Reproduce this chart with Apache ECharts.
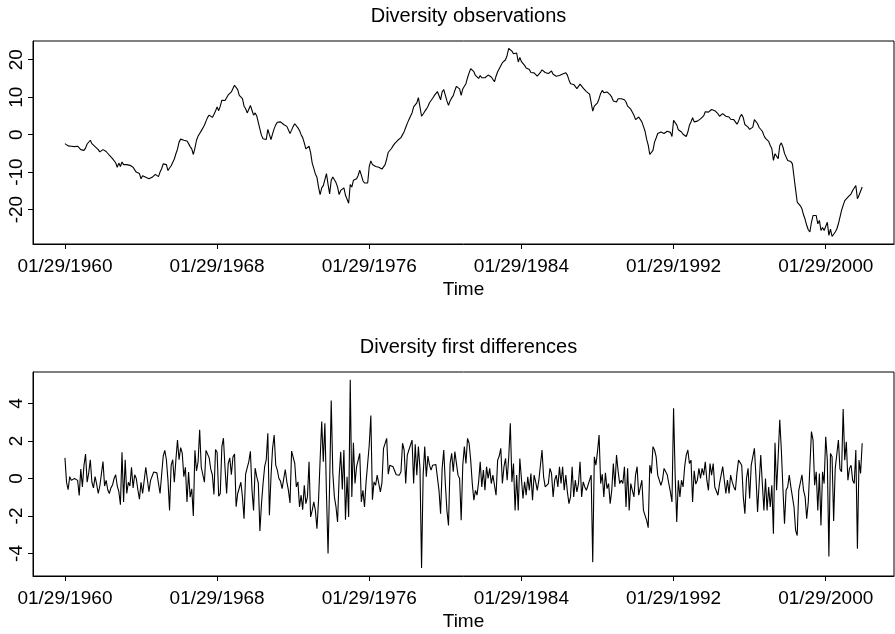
<!DOCTYPE html>
<html>
<head>
<meta charset="utf-8">
<script src="https://cdn.jsdelivr.net/npm/echarts@6/dist/echarts.min.js"></script>
<style>
html,body{margin:0;padding:0;background:#fff;}
#chart{width:895px;height:634px;}
</style>
</head>
<body>
<div id="chart"></div>
<script>
// Monthly series starting 01/29/1960
const startYear = 1960;
const titles = ['Diversity observations', 'Diversity first differences'];
const xAxisName = 'Time';
const tickYears = [1960, 1968, 1976, 1984, 1992, 2000];
const tickLabels = ['01/29/1960', '01/29/1968', '01/29/1976', '01/29/1984', '01/29/1992', '01/29/2000'];
const obsTicks = [-20, -10, 0, 10, 20];
const diffTicks = [-4, -2, 0, 2, 4];

const observations = [
-2.4,-2.8,-3.0,-3.1,-3.1,-3.0,-3.2,-3.1,-3.1,-3.6,
-4.0,-3.5,-4.2,-3.6,-2.5,-2.0,-1.5,-2.4,-2.9,-3.2,
-3.5,-4.0,-4.6,-4.3,-4.0,-4.2,-4.5,-5.0,-5.5,-6.0,
-6.4,-6.9,-7.5,-8.7,-7.6,-8.5,-7.3,-8.0,-8.5,-8.0,
-8.2,-8.2,-8.5,-8.7,-9.4,-10.0,-10.2,-10.4,-11.8,-11.0,
-10.7,-11.4,-11.6,-11.8,-11.6,-11.4,-11.0,-10.6,-10.4,-11.2,
-10.0,-9.1,-7.8,-7.9,-8.0,-9.6,-8.9,-8.3,-7.8,-6.5,
-5.1,-3.9,-2.0,-1.2,-0.8,-1.5,-1.5,-1.7,-2.4,-3.2,
-3.8,-5.3,-3.6,-1.5,-0.4,0.3,1.0,1.4,2.5,3.6,
4.6,5.2,4.9,4.6,5.4,6.3,7.4,6.4,7.6,9.2,
9.0,9.1,9.6,10.6,11.1,11.4,12.3,13.2,12.8,12.0,
10.5,10.2,9.6,7.6,6.9,5.8,6.2,7.8,6.5,5.2,
5.8,5.0,4.5,1.5,-0.2,-1.1,-1.2,-1.3,1.4,0.0,
-1.3,0.2,1.6,2.6,3.3,3.6,3.4,3.1,2.7,2.5,
2.2,1.9,0.3,1.2,2.2,2.9,2.6,1.8,1.1,0.0,
-0.8,-2.2,-3.8,-3.4,-3.1,-4.8,-7.6,-9.0,-10.5,-11.4,
-14.0,-16.0,-14.2,-13.6,-12.0,-10.4,-13.3,-15.8,-12.2,-11.3,
-11.4,-12.8,-14.0,-16.0,-14.9,-15.4,-14.2,-16.2,-16.5,-18.3,
-13.3,-14.0,-12.2,-12.0,-11.8,-10.9,-9.5,-10.8,-12.3,-12.9,
-12.9,-12.9,-8.5,-7.0,-8.0,-8.3,-8.5,-8.6,-8.7,-8.8,
-9.2,-9.7,-8.0,-6.5,-4.7,-4.2,-3.7,-3.0,-2.4,-2.0,
-1.5,-1.2,-0.8,-0.4,0.8,1.9,3.0,4.0,4.9,5.8,
7.4,7.9,8.5,9.9,9.6,4.9,5.5,6.2,6.8,7.5,
8.5,9.1,9.7,10.4,10.9,11.5,11.8,9.3,11.4,12.0,
12.3,9.0,7.8,9.0,9.8,10.4,11.8,12.9,13.0,12.2,
10.5,12.2,12.9,13.6,15.2,16.5,17.6,17.8,16.8,15.8,
15.3,15.0,15.8,15.2,15.6,15.2,15.6,15.9,16.1,15.4,
15.0,14.1,15.6,16.8,17.6,18.1,19.2,19.7,20.0,21.2,
23.0,22.9,22.3,21.6,21.3,21.8,19.4,20.6,19.5,19.1,
18.5,17.8,17.4,17.4,16.6,16.3,16.5,16.0,15.6,15.2,
16.6,17.3,17.4,16.6,16.4,16.3,16.7,17.0,16.1,15.8,
15.6,15.7,15.8,15.6,16.2,16.5,16.5,15.9,14.6,13.6,
14.1,13.4,12.9,12.3,11.9,13.5,13.0,12.4,12.0,11.5,
11.0,10.8,10.6,6.3,7.6,7.8,8.5,9.6,11.0,11.8,
11.2,11.6,11.4,11.1,10.6,10.0,9.0,9.3,8.7,9.6,
10.1,9.6,9.6,9.3,8.7,7.6,8.1,6.8,6.0,5.2,
4.0,4.3,4.7,4.3,3.4,2.2,0.9,-1.2,-2.8,-5.3,
-4.8,-4.2,-2.0,-0.9,0.3,0.6,0.7,0.4,0.3,0.4,
0.9,1.0,0.6,-0.5,3.8,3.6,2.6,1.3,1.0,0.7,
0.1,-0.3,-0.5,0.7,2.5,3.4,4.5,3.4,3.5,3.6,
4.0,4.2,4.5,5.0,6.1,5.6,6.0,6.3,6.7,6.9,
6.4,5.9,5.6,4.9,5.1,5.6,6.1,4.9,4.8,4.7,
4.1,4.0,4.0,3.6,2.8,3.6,4.8,5.4,4.5,2.7,
2.3,2.0,1.4,1.8,2.0,4.0,4.5,2.9,1.9,2.2,
0.9,-0.2,-1.0,-0.8,-1.8,-2.9,-3.7,-6.9,-5.1,-5.3,
-6.4,-2.9,-2.2,-3.3,-5.0,-5.5,-6.9,-7.0,-7.2,-7.8,
-11.3,-14.7,-18.0,-18.4,-19.0,-19.8,-21.4,-22.6,-24.2,-25.4,
-26.0,-23.4,-21.6,-22.0,-21.6,-23.8,-22.9,-25.6,-24.8,-25.6,
-25.2,-23.4,-26.9,-25.2,-27.2,-26.6,-26.0,-25.2,-23.8,-23.4,
-20.2,-18.9,-17.6,-17.1,-16.7,-16.2,-15.8,-14.9,-14.7,-13.6,
-17.1,-16.2,-15.8,-14.0
];

const differences = [
1.1,-0.2,-0.6,0.1,-0.1,0.0,0.0,0.1,-0.1,-0.9,
0.5,-0.45,0.7,1.3,-0.2,0.3,1.0,-0.2,-0.5,0.1,
-0.3,-0.8,-0.4,-0.3,0.9,-0.4,-0.1,-0.6,-0.8,-0.5,
-0.35,0.0,0.2,-0.4,-0.7,-1.4,1.4,-1.25,1.0,-0.8,
-0.2,-0.4,0.6,-0.5,0.2,0.0,-0.6,-1.1,-0.2,-0.8,
-0.8,0.6,0.65,-0.7,-0.1,-0.1,0.35,0.3,0.3,0.25,
-0.8,0.2,1.2,1.5,1.0,-0.1,-1.7,0.7,1.0,-0.2,
1.0,2.05,1.0,1.65,1.35,0.1,0.6,-1.25,0.35,-1.0,
-0.55,-2.0,1.5,0.4,0.9,2.6,0.6,0.55,-0.2,1.5,
1.6,1.1,0.5,0.2,-0.85,1.55,1.4,-0.95,-0.8,1.7,
2.15,0.55,-0.8,0.8,1.1,0.2,1.15,1.3,-1.5,-0.8,
-0.7,-0.2,-1.0,-2.15,0.25,0.3,0.9,1.45,-0.6,-1.7,
0.55,0.1,-0.25,-2.8,
-1.35,-0.27,0.63,1.0,2.41,-1.96,0.09,1.61,2.32,0.71,
0.45,0.0,-0.14,-0.54,-0.63,0.48,-0.18,-0.63,-1.30,1.46,
1.54,0.80,-0.45,-0.18,-1.52,-0.89,-1.66,-0.36,-1.34,-0.98,
0.89,-2.05,-1.70,-1.25,-1.70,-2.68,-1.16,1.0,3.04,0.89,
2.95,-0.80,-4.0,-0.27,4.16,0.30,-0.98,-1.5,-2.32,0.09,
1.43,-0.59,1.52,-2.20,0.09,-2.05,5.27,-0.98,1.91,-0.27,
0.63,0.98,1.34,-1.25,-0.63,-1.52,-0.18,0.80,1.8,3.36,
-1.13,-0.18,-0.36,0.18,0.09,-0.71,-0.23,1.61,1.55,2.14,
0.23,0.71,0.63,0.63,0.41,0.2,0.30,0.18,0.36,1.88,
1.52,-0.27,1.25,1.52,1.52,2.05,-0.27,1.82,0.18,1.70,
0.54,-4.77,0.18,1.70,0.09,1.2,0.71,0.45,0.71,0.80,
0.75,0.71,-0.63,-1.88,0.54,1.52,-0.27,-1.70,-2.50,0.80,
1.34,0.36,1.43,1.43,0.18,0.0,
-2.23,0.71,1.70,0.80,2.14,1.88,0.98,-0.27,-1.16,-0.63,
-0.89,-0.18,0.89,-0.45,0.45,-0.63,0.63,0.0,0.54,-0.27,
0.18,-0.36,-0.89,0.98,1.20,1.61,-0.27,0.63,1.07,-0.09,
1.13,2.95,-0.18,0.80,-1.70,0.18,-1.70,1.07,0.0,-1.07,
-0.18,-0.89,0.09,-0.63,0.27,-1.16,0.18,-0.18,-0.63,-0.09,
-0.18,1.52,0.09,-0.45,-0.54,-0.27,0.54,0.27,-0.98,-0.09,
0.18,-0.45,0.63,-0.27,0.63,-0.63,0.18,-0.71,-1.34,-0.98,
0.63,-0.98,-0.09,-0.71,-0.27,0.89,-0.98,-0.18,-0.45,-0.63,
-0.36,-0.36,0.18,-4.46,1.16,0.71,1.43,2.32,-0.27,0.23,
-0.98,0.30,-0.54,-0.27,-1.34,-0.63,0.80,-0.45,1.25,0.4,
-0.27,-0.09,-0.27,0.63,-1.52,0.54,-1.70,-0.27,-0.63,-0.98,
0.18,0.63,-0.89,
-0.89,-0.09,-1.70,-1.79,-2.23,-2.62,0.71,0.27,1.70,1.52,
1.16,0.18,0.09,-0.36,-0.09,0.54,0.63,0.2,-0.27,-0.71,
-1.25,3.75,0.18,-2.32,-0.09,-0.98,-0.09,-0.45,0.63,1.25,
1.52,0.80,0.98,-1.25,0.41,-0.3,-0.09,0.54,0.0,0.54,
0.18,0.89,-0.09,-0.63,0.80,0.18,0.80,-0.45,-0.45,-0.89,
-0.27,-0.36,0.63,0.63,-0.80,-0.09,-0.80,0.18,-0.18,-0.45,
-0.63,0.3,0.98,0.89,0.71,-0.98,-1.88,0.0,0.54,-1.07,
0.71,0.63,1.61,0.09,-1.79,-1.79,1.25,-0.27,-1.70,0.0,
-1.70,-0.45,-1.52,-0.36,-2.95,1.91,-0.63,1.16,3.13,1.52,
-0.54,-2.41,-0.63,-0.45,0.18,-0.45,-0.36,-1.52,-2.77,-3.04,
-0.63,-0.71,0.2,-0.63,-0.98,-2.14,-1.25,-1.25,2.5,2.05,
-0.36,0.36,-1.70,0.27,-2.50,0.36,-0.27,2.23,0.98,-4.16,
1.34,1.16,-2.27,0.54,0.54,2.05,0.5,0.36,3.70,0.98,
1.96,-0.09,0.54,0.71,-0.09,-0.27,1.52,-3.75,0.98,0.27,
1.88
];

const FONT = '"Liberation Sans", Arial, Helvetica, sans-serif';
const toPairs = arr => arr.map((v, i) => [startYear + i / 12, v]);
const xFormatter = v => {
  const k = tickYears.findIndex(t => Math.abs(t - v) < 1e-6);
  return k >= 0 ? tickLabels[k] : '';
};

function xAxisFor(gridIndex) {
  return {
    type: 'value', gridIndex,
    min: 1958.32, max: 2003.59,
    name: xAxisName, nameLocation: 'middle', nameGap: 36,
    nameTextStyle: { fontFamily: FONT, fontSize: 19, color: '#000' },
    axisLine: { show: true, onZero: false, lineStyle: { color: '#000', width: 1 } },
    axisTick: { show: true, length: 5, inside: false, customValues: tickYears, lineStyle: { color: '#000', width: 1 } },
    axisLabel: { show: true, customValues: tickYears, formatter: xFormatter, margin: 13,
      fontFamily: FONT, fontSize: 19, color: '#000' },
    splitLine: { show: false }
  };
}
function yAxisFor(gridIndex, min, max, ticks) {
  return {
    type: 'value', gridIndex, min, max,
    axisLine: { show: true, onZero: false, lineStyle: { color: '#000', width: 1 } },
    axisTick: { show: true, length: 5, customValues: ticks, lineStyle: { color: '#000', width: 1 } },
    axisLabel: { show: true, customValues: ticks, rotate: 90, margin: 7,
      fontFamily: FONT, fontSize: 19, color: '#000' },
    splitLine: { show: false }
  };
}

const chart = echarts.init(document.getElementById('chart'), null, { renderer: 'canvas' });
chart.setOption({
  animation: false,
  backgroundColor: '#fff',
  title: [
    { text: titles[0], left: 463.5, top: 1, textAlign: 'center',
      textStyle: { fontFamily: FONT, fontSize: 20, fontWeight: 'normal', color: '#000' } },
    { text: titles[1], left: 463.5, top: 332, textAlign: 'center',
      textStyle: { fontFamily: FONT, fontSize: 20, fontWeight: 'normal', color: '#000' } }
  ],
  grid: [
    { left: 33, top: 41, width: 861, height: 203, show: true, borderColor: '#000', borderWidth: 1, backgroundColor: 'transparent' },
    { left: 33, top: 372, width: 861, height: 204, show: true, borderColor: '#000', borderWidth: 1, backgroundColor: 'transparent' }
  ],
  xAxis: [xAxisFor(0), xAxisFor(1)],
  yAxis: [yAxisFor(0, -29.2, 25.0, obsTicks), yAxisFor(1, -5.2, 5.68, diffTicks)],
  series: [
    { type: 'line', xAxisIndex: 0, yAxisIndex: 0, data: toPairs(observations),
      showSymbol: false, symbol: 'none', lineStyle: { color: '#000', width: 1.1 } },
    { type: 'line', xAxisIndex: 1, yAxisIndex: 1, data: toPairs(differences),
      showSymbol: false, symbol: 'none', lineStyle: { color: '#000', width: 1.1 } }
  ]
});
</script>
</body>
</html>
